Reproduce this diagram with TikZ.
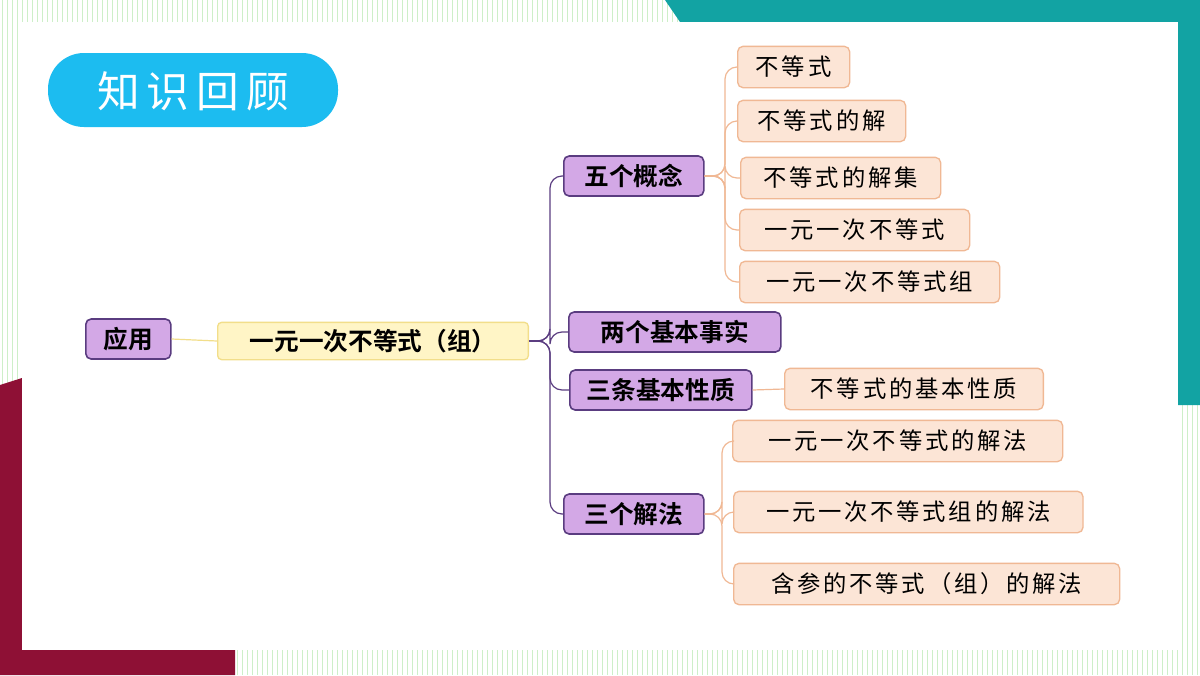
\documentclass[tikz,border=0pt]{standalone}
\usepackage{fontspec}
\newfontfamily\cjk[LetterSpace=12]{Noto Sans CJK SC}
\newfontfamily\cjkt{Noto Sans CJK SC}
\newfontfamily\cjkb{Noto Sans CJK SC Bold}
\definecolor{stripe}{HTML}{CDEFC8}
\definecolor{teal}{HTML}{12A3A3}
\definecolor{maroon}{HTML}{8E1035}
\definecolor{pill}{HTML}{1CBCF0}
\definecolor{pfill}{HTML}{D3A8E6}
\definecolor{pdraw}{HTML}{5A3C80}
\definecolor{ofill}{HTML}{FCE5D6}
\definecolor{odraw}{HTML}{F0B894}
\definecolor{yfill}{HTML}{FFF5C6}
\definecolor{ydraw}{HTML}{F2DE8A}
\tikzset{
 pbox/.style={draw=pdraw,line width=1.2pt,fill=pfill,rounded corners=4pt,inner sep=0pt,font=\cjkb\fontsize{18.5}{18.5}\selectfont,anchor=west,minimum height=30pt},
 obox/.style={draw=odraw,line width=1pt,fill=ofill,rounded corners=4pt,inner sep=0pt,font=\cjk\fontsize{17.5}{17.5}\selectfont,anchor=west,minimum height=31pt},
 pl/.style={draw=pdraw,line width=0.9pt,rounded corners=9pt},
 ol/.style={draw=odraw,line width=0.9pt,rounded corners=9pt},
}
\begin{document}
\begin{tikzpicture}[x=0.75pt,y=-0.75pt]
\useasboundingbox (0,0) rectangle (1200,675);
\fill[white] (0,0) rectangle (1200,675);
\foreach \i in {0,...,239} \draw[stripe,line width=0.7pt] (\i*5+2,0) -- (\i*5+2,675);
\fill[teal] (665,0) -- (1200,0) -- (1200,405) -- (1100,405) -- (1000,22) -- (680,22) -- cycle;
\fill[maroon] (0,385) -- (22,378) -- (22,650) -- (235,650) -- (235,675) -- (0,675) -- cycle;
\fill[white] (22,22) rectangle (1178,650);
\fill[pill,rounded corners=27pt] (48,53) rectangle (338,127);
\node (title) at (193,91) {\cjkt\fontsize{32}{32}\selectfont\color{white}知\,识\,回\,顾};
% nodes
\node[pbox,minimum width=63.75pt] (yy) at (85,339) {应用};
\node[draw=ydraw,line width=1pt,fill=yfill,rounded corners=3pt,inner sep=0pt,minimum width=233pt,minimum height=28pt,font=\cjkb\fontsize{18.5}{18.5}\selectfont,anchor=west] (root) at (217,341) {一元一次不等式（组）};
\node[pbox,minimum width=105pt] (c1) at (563,176) {五个概念};
\node[pbox,minimum width=159pt] (c2) at (568,332) {两个基本事实};
\node[pbox,minimum width=136.5pt] (c3) at (569,390) {三条基本性质};
\node[pbox,minimum width=105pt] (c4) at (563,514) {三个解法};
\node[obox,minimum width=84pt] (a1) at (737,67) {不等式};
\node[obox,minimum width=126pt] (a2) at (737,121) {不等式的解};
\node[obox,minimum width=150pt] (a3) at (740,178) {不等式的解集};
\node[obox,minimum width=172.5pt] (a4) at (739,230) {一元一次不等式};
\node[obox,minimum width=195pt] (a5) at (739,282) {一元一次不等式组};
\node[obox,minimum width=194pt] (b1) at (784,389) {不等式的基本性质};
\node[obox,minimum width=247.5pt] (d1) at (732,441) {一元一次不等式的解法};
\node[obox,minimum width=262pt] (d2) at (733,512) {一元一次不等式组的解法};
\node[obox,minimum width=289.5pt] (d3) at (733,584) {含参的不等式（组）的解法};
% connectors
\draw[draw=ydraw,line width=0.9pt] (yy.east) -- (root.west);
\foreach \c in {c1,c2,c3,c4} \draw[pl] (root.east) -- (550,341) -- (550,0 |- \c.west) -- (\c.west);
\foreach \c in {a1,a2,a3,a4,a5} \draw[ol] (c1.east) -- (725,176) -- (725,0 |- \c.west) -- (\c.west);
\draw[ol] (c3.east) -- (b1.west);
\foreach \c in {d1,d2,d3} \draw[ol] (c4.east) -- (722,514) -- (722,0 |- \c.west) -- (\c.west);
\end{tikzpicture}
\end{document}
